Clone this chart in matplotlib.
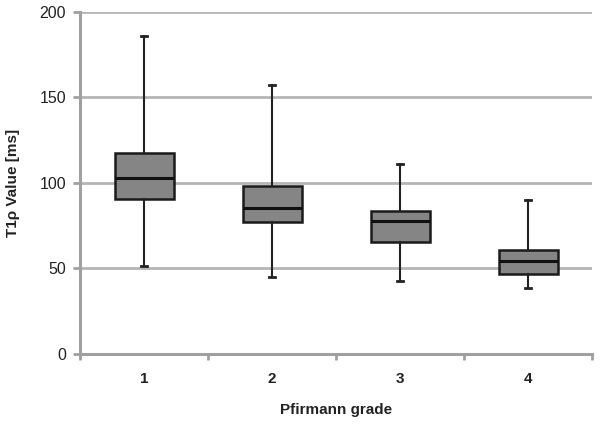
import matplotlib
matplotlib.use("Agg")
import matplotlib.pyplot as plt

categories = ["1", "2", "3", "4"]
whisker_low = [51.6, 45.2, 42.5, 38.8]
q1 = [90.5, 77.4, 65.3, 47.0]
median = [103.0, 85.4, 78.0, 54.4]
q3 = [117.5, 98.0, 83.8, 60.6]
whisker_high = [186.0, 157.0, 111.0, 89.8]
yticks = [0, 50, 100, 150, 200]

plt.rcParams['font.family'] = ['Liberation Sans', 'DejaVu Sans']

fig = plt.figure(figsize=(6.04, 4.25), dpi=100)
ax = fig.add_axes([0.1325, 0.167, 0.848, 0.805])

stats = []
for i, c in enumerate(categories):
    stats.append(dict(label=c, whislo=whisker_low[i], q1=q1[i], med=median[i],
                      q3=q3[i], whishi=whisker_high[i], fliers=[]))

positions = list(range(1, len(categories) + 1))
ax.bxp(stats, positions=positions, widths=0.46, patch_artist=True, showfliers=False,
       boxprops=dict(facecolor='#858585', edgecolor='#1a1a1a', linewidth=1.8),
       medianprops=dict(color='#111111', linewidth=2.2),
       whiskerprops=dict(color='#222222', linewidth=1.5),
       capprops=dict(color='#222222', linewidth=2.0),
       capwidths=0.05, zorder=3)

ax.set_xlim(0.5, len(categories) + 0.5)
ax.set_ylim(0, 200)
ax.set_yticks(yticks)
ax.set_yticklabels([str(t) for t in yticks], fontsize=11.5, color='#222222')
ax.set_xticks(positions)
ax.set_xticklabels(categories, fontsize=11, fontweight='bold', color='#222222')
ax.tick_params(axis='x', length=0, pad=13)
ax.set_xticks([p + 0.5 for p in range(0, len(categories) + 1)], minor=True)
ax.tick_params(axis='x', which='minor', length=4, width=2, color='#a0a0a0', direction='out')
ax.tick_params(axis='y', length=5, width=2, color='#a0a0a0', pad=5)

ax.yaxis.grid(True, color='#b5b5b5', linewidth=2)
ax.set_axisbelow(True)
for s in ['top', 'right']:
    ax.spines[s].set_visible(False)
for s in ['left', 'bottom']:
    ax.spines[s].set_color('#a0a0a0')
    ax.spines[s].set_linewidth(2.2)

ax.set_ylabel('T1ρ Value [ms]', fontsize=11, fontweight='bold', color='#222222', labelpad=14)
ax.set_xlabel('Pfirmann grade', fontsize=11, fontweight='bold', color='#222222', labelpad=12)

fig.savefig('out.png', dpi=100)
